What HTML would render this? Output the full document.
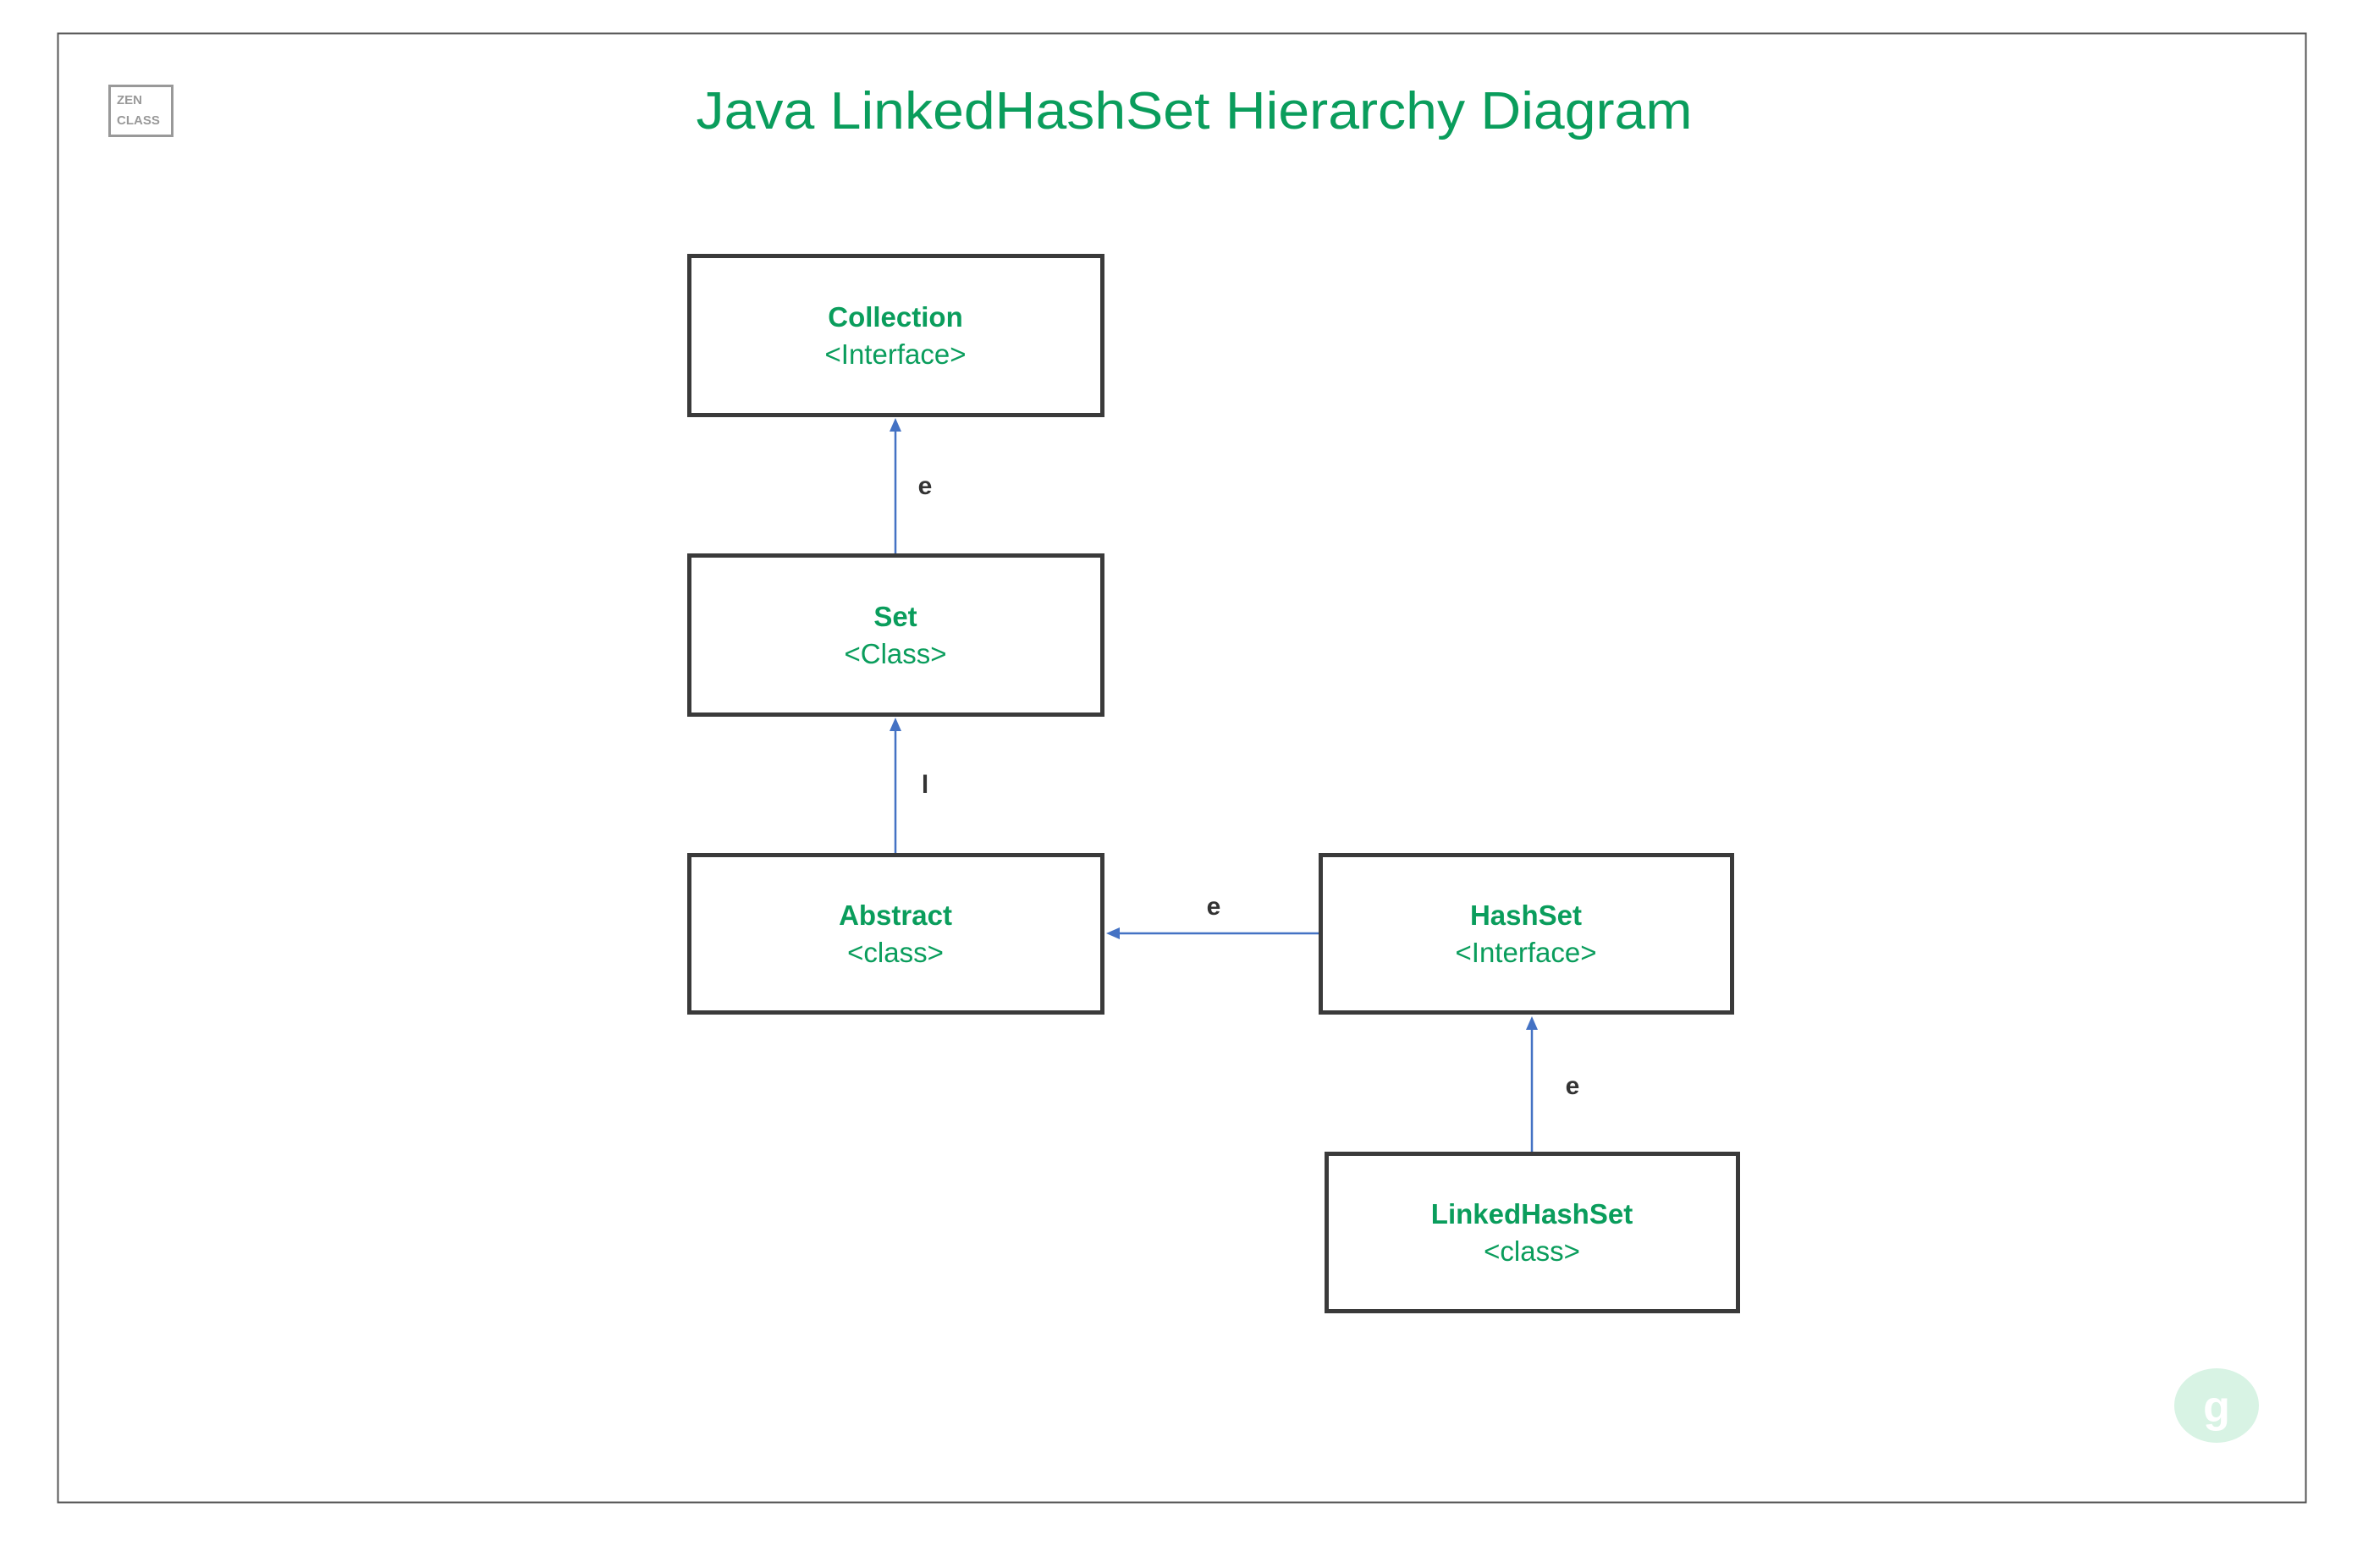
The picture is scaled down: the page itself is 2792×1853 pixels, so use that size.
<!DOCTYPE html>
<html><head><meta charset="utf-8"><style>
html,body{margin:0;padding:0;background:#fff;}
svg{display:block;}
text{font-family:"Liberation Sans",sans-serif;}
</style></head><body>
<svg width="2792" height="1853" viewBox="0 0 2792 1853" xmlns="http://www.w3.org/2000/svg">
<rect x="68.5" y="39.5" width="2656" height="1736" fill="#fff" stroke="#555" stroke-width="2"/>
<rect x="129.5" y="101.5" width="74" height="59" fill="none" stroke="#999" stroke-width="3"/>
<text x="138" y="123" font-size="15" font-weight="bold" fill="#999">ZEN</text>
<text x="138" y="147" font-size="15" font-weight="bold" fill="#999">CLASS</text>
<text x="1411" y="152" font-size="62" fill="#0a9d5c" text-anchor="middle" textLength="1177" lengthAdjust="spacingAndGlyphs">Java LinkedHashSet Hierarchy Diagram</text>
<g fill="#fff" stroke="#3a3a3a" stroke-width="5">
<rect x="814.5" y="302.5" width="488" height="188"/>
<rect x="814.5" y="656.5" width="488" height="188"/>
<rect x="814.5" y="1010.5" width="488" height="186"/>
<rect x="1560.5" y="1010.5" width="486" height="186"/>
<rect x="1567.5" y="1363.5" width="486" height="186"/>
</g>
<g fill="#0a9d5c" text-anchor="middle" font-size="33">
<text x="1058" y="386" font-weight="bold">Collection</text>
<text x="1058" y="430">&lt;Interface&gt;</text>
<text x="1058" y="740" font-weight="bold">Set</text>
<text x="1058" y="784">&lt;Class&gt;</text>
<text x="1058" y="1093" font-weight="bold">Abstract</text>
<text x="1058" y="1137">&lt;class&gt;</text>
<text x="1803" y="1093" font-weight="bold">HashSet</text>
<text x="1803" y="1137">&lt;Interface&gt;</text>
<text x="1810" y="1446" font-weight="bold">LinkedHashSet</text>
<text x="1810" y="1490">&lt;class&gt;</text>
</g>
<g stroke="#4472c4" stroke-width="2.5" fill="none">
<line x1="1058" y1="654" x2="1058" y2="505"/>
<line x1="1058" y1="1008" x2="1058" y2="859"/>
<line x1="1558" y1="1103" x2="1318" y2="1103"/>
<line x1="1810" y1="1361" x2="1810" y2="1212"/>
</g>
<g fill="#4472c4">
<polygon points="1058,494 1051,510 1065,510"/>
<polygon points="1058,848 1051,864 1065,864"/>
<polygon points="1307,1103 1323,1096 1323,1110"/>
<polygon points="1810,1201 1803,1217 1817,1217"/>
</g>
<g fill="#333" font-size="30" font-weight="bold" text-anchor="middle">
<text x="1093" y="584">e</text>
<text x="1093" y="937">l</text>
<text x="1434" y="1081">e</text>
<text x="1858" y="1293">e</text>
</g>
<ellipse cx="2619" cy="1661" rx="50" ry="44" fill="#d8f3e4"/>
<text x="2619" y="1680" font-size="52" font-weight="bold" fill="#fff" text-anchor="middle">g</text>
</svg>
</body></html>
